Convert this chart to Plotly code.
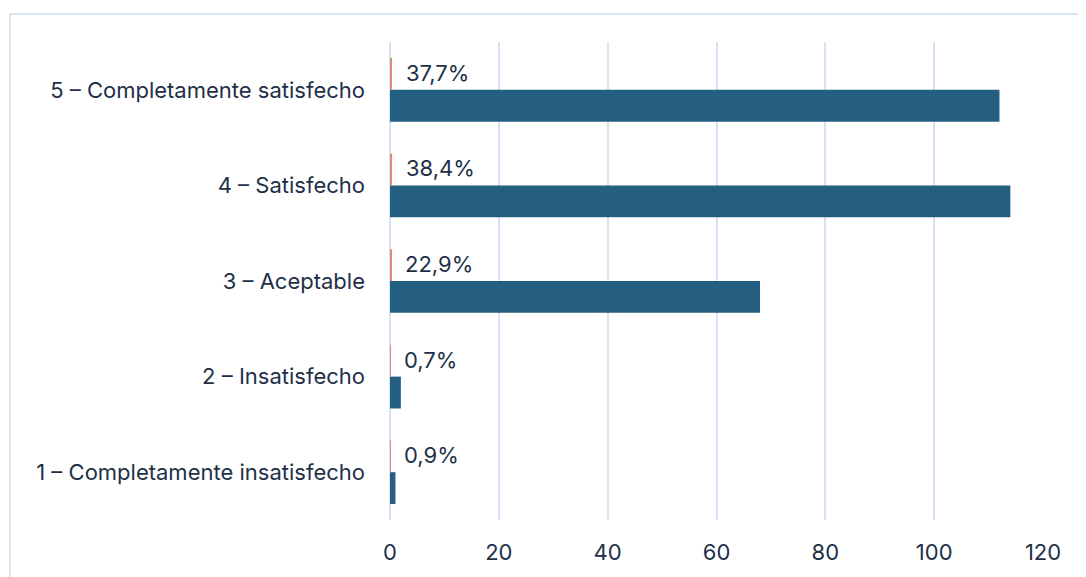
import plotly.graph_objects as go

categories = ["1 – Completamente insatisfecho", "2 – Insatisfecho", "3 – Aceptable",
              "4 – Satisfecho", "5 – Completamente satisfecho"]
counts = [1, 2, 68, 114, 112]
percents = [0.009, 0.007, 0.229, 0.384, 0.377]
pct_labels = ["0,9%", "0,7%", "22,9%", "38,4%", "37,7%"]
x_ticks = [0, 20, 40, 60, 80, 100, 120]

TEXT = "#1e3048"
GRID = "#d5e3f4"
FONT = "Inter"
FS = 22

fig = go.Figure()
fig.add_trace(go.Bar(
    y=categories, x=counts, orientation="h", name="Respuestas",
    marker=dict(color="#245f82", line=dict(width=0)),
    hoverinfo="x+y",
))
fig.add_trace(go.Bar(
    y=categories, x=percents, orientation="h", name="%",
    marker=dict(color="#e08a76", line=dict(width=0)),
    hoverinfo="x+y",
))

for cat, p, lab in zip(categories, percents, pct_labels):
    fig.add_annotation(
        x=p, y=cat, xref="x", yref="y", text=lab, showarrow=False,
        xanchor="left", yanchor="middle", xshift=12, yshift=17,
        font=dict(family=FONT, size=FS, color=TEXT),
    )

# page has an 8px body margin; compensate so the plot lands where the reference has it
W, H = 1078, 569
L, T = 382, 34
pw, ph = 653, 480
R = W - L - pw
B = H - T - ph
fig.add_shape(
    type="rect", xref="paper", yref="paper",
    x0=(2 - L) / pw, x1=(W + 20 - L) / pw,
    y0=-(B + 20) / ph, y1=(ph + T - 6) / ph,
    line=dict(color="#dbe6f4", width=2), layer="below",
)

fig.update_layout(
    width=W, height=H,
    margin=dict(l=L, r=R, t=T, b=B),
    paper_bgcolor="white", plot_bgcolor="white",
    barmode="group", bargap=1/3, bargroupgap=0,
    showlegend=False,
    font=dict(family=FONT, size=FS, color=TEXT),
    xaxis=dict(
        range=[0, 120], tickvals=x_ticks, showgrid=True, gridcolor=GRID, gridwidth=2,
        zeroline=True, zerolinecolor=GRID, zerolinewidth=2,
        showline=False, ticks="", ticklabelstandoff=17,
        tickfont=dict(family=FONT, size=FS, color=TEXT),
    ),
    yaxis=dict(
        type="category", categoryorder="array", categoryarray=categories,
        showgrid=False, showline=False, ticks="", ticklabelstandoff=24,
        tickfont=dict(family=FONT, size=FS, color=TEXT),
    ),
)

fig.write_html("out.html")
